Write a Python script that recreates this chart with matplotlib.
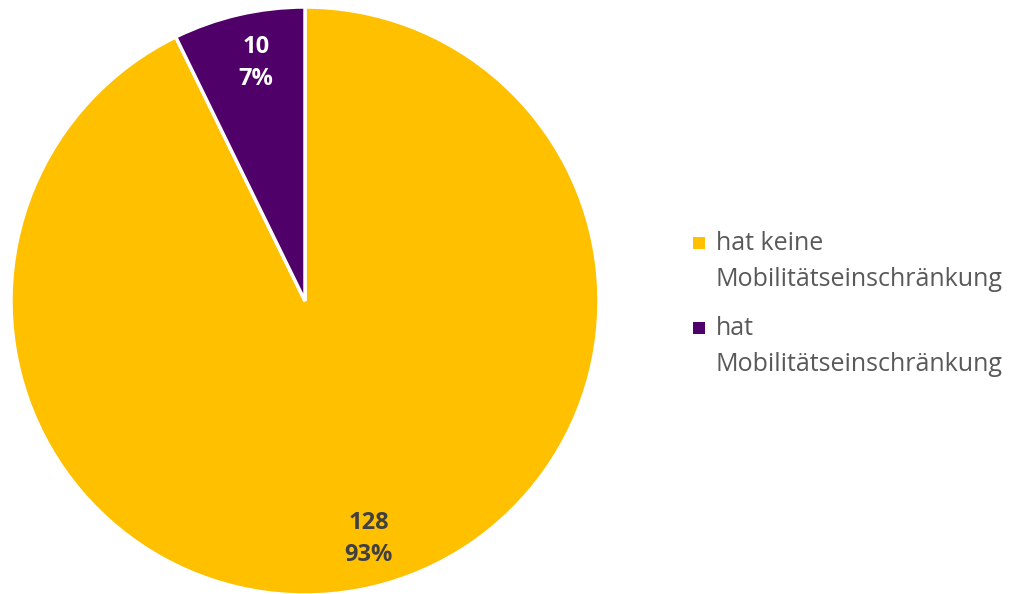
import matplotlib
matplotlib.use("Agg")
import matplotlib.pyplot as plt
from matplotlib.patches import Rectangle

plt.rcParams['font.family'] = ['Open Sans', 'DejaVu Sans']

# Daten
labels = ["hat keine\nMobilitätseinschränkung", "hat\nMobilitätseinschränkung"]
counts = [128, 10]
colors = ["#FFC000", "#4F0069"]
text_colors = ["#404040", "#FFFFFF"]

total = sum(counts)

fig = plt.figure(figsize=(10.14, 5.94), dpi=100)
W, H = 1014, 594
cx, cy, r = 305, 301, 294
ax = fig.add_axes([(cx - r) / W, (H - cy - r) / H, 2 * r / W, 2 * r / H])

wedges, texts = ax.pie(counts, colors=colors, startangle=90, counterclock=False,
                       radius=1, labels=[f"{c}\n{round(c / total * 100)}%" for c in counts],
                       labeldistance=0.83,
                       wedgeprops=dict(edgecolor="white", linewidth=2.5))
for w in wedges:
    w.set_clip_on(False)
for t, tc in zip(texts, text_colors):
    t.set_color(tc)
    t.set_fontsize(17)
    t.set_fontweight("bold")
    t.set_ha("center")
    t.set_va("center")
    t.set_linespacing(1.45)
# kleine Verschiebung wie im Original
texts[0].set_x(texts[0].get_position()[0] + 0.03)
texts[1].set_x(texts[1].get_position()[0] + 0.02)
ax.set_xlim(-1, 1)
ax.set_ylim(-1, 1)
ax.set_aspect("equal")
ax.axis("off")

# Legende
leg_y = [243, 328]
for lab, col, y in zip(labels, colors, leg_y):
    fig.add_artist(Rectangle((693 / W, (H - y - 6) / H), 12 / W, 12 / H,
                             transform=fig.transFigure, facecolor=col, edgecolor="none"))
    fig.text(716 / W, (H - y + 12) / H, lab, fontsize=18, color="#595959",
             ha="left", va="top", linespacing=1.6)

fig.savefig("out.png", dpi=100)
